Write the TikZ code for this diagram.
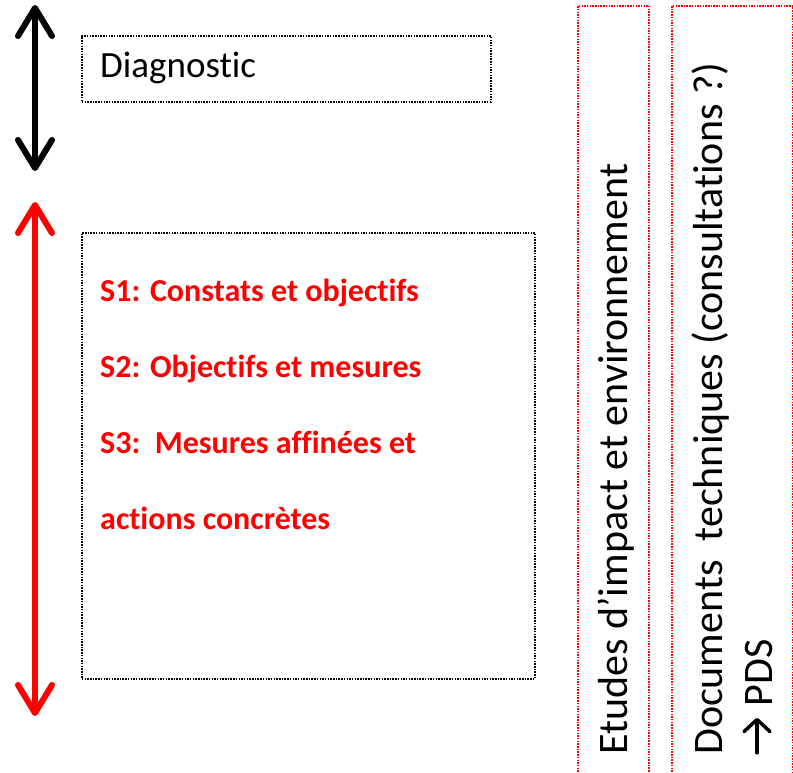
\documentclass[tikz,border=0pt]{standalone}
\usepackage{fontspec}
\setmainfont{Carlito}[Ligatures=NoCommon]
\usetikzlibrary{arrows.meta}
\definecolor{pured}{RGB}{255,0,0}
\tikzset{
  blackdots/.style={draw=black, line width=1.8pt, dash pattern=on 1.5pt off 1.2pt},
  reddots/.style={draw=pured, line width=1.8pt, dash pattern=on 1.5pt off 1.2pt},
  bigarrow/.style={line width=6pt, {Straight Barb[round,length=28pt,width=34pt]}-{Straight Barb[round,length=28pt,width=34pt]}},
  boxnode/.style={rectangle, inner sep=0pt, anchor=north west},
  vtext/.style={rotate=90, anchor=base west, inner sep=0pt, font=\fontsize{42}{50}\selectfont, align=left},
}
\newcommand{\uparrowglyph}{\tikz[x=1pt,y=1pt,baseline=0pt]{\useasboundingbox (0,0) rectangle (39,30);\draw[line width=3.5pt, line cap=round, -{Straight Barb[round,length=12pt,width=26pt]}] (2,15) -- (37,15);}}
\begin{document}
\begin{tikzpicture}[x=1pt,y=-1pt]
\useasboundingbox[fill=white] (0,0) rectangle (793,773);
% boxes
\node[boxnode, blackdots, minimum width=409pt, minimum height=66pt] (diagbox) at (81,35) {};
\node[boxnode, blackdots, minimum width=453pt, minimum height=446pt] (mainbox) at (81,232) {};
\node[boxnode, reddots, minimum width=71pt, minimum height=800pt] (etudesbox) at (577,5) {};
\node[boxnode, reddots, minimum width=121pt, minimum height=800pt] (docbox) at (671,5) {};
% texts
\node[anchor=base west, inner sep=0pt, font=\fontsize{37}{44}\selectfont] (diag) at (100,78) {Diagnostic};
\node[anchor=base west, inner sep=0pt, align=left, text=pured, font=\fontsize{32}{76}\selectfont\bfseries] (steps) at (100,529)
  {S1: Constats et objectifs\\S2: Objectifs et mesures\\S3:\ \ Mesures affinées et\\actions concrètes};
\node[vtext] (etudes) at (627,755) {Etudes d’impact et environnement};
\node[vtext] (docs) at (772,755) {Documents\ \ techniques (consultations ?)\\\uparrowglyph{} PDS};
% arrows
\coordinate (btop) at (35,5);
\coordinate (bbot) at (35,171);
\coordinate (rtop) at (35,202);
\coordinate (rbot) at (35,716);
\draw[bigarrow, black] (btop) -- (bbot);
\draw[bigarrow, pured] (rtop) -- (rbot);
\end{tikzpicture}
\end{document}
